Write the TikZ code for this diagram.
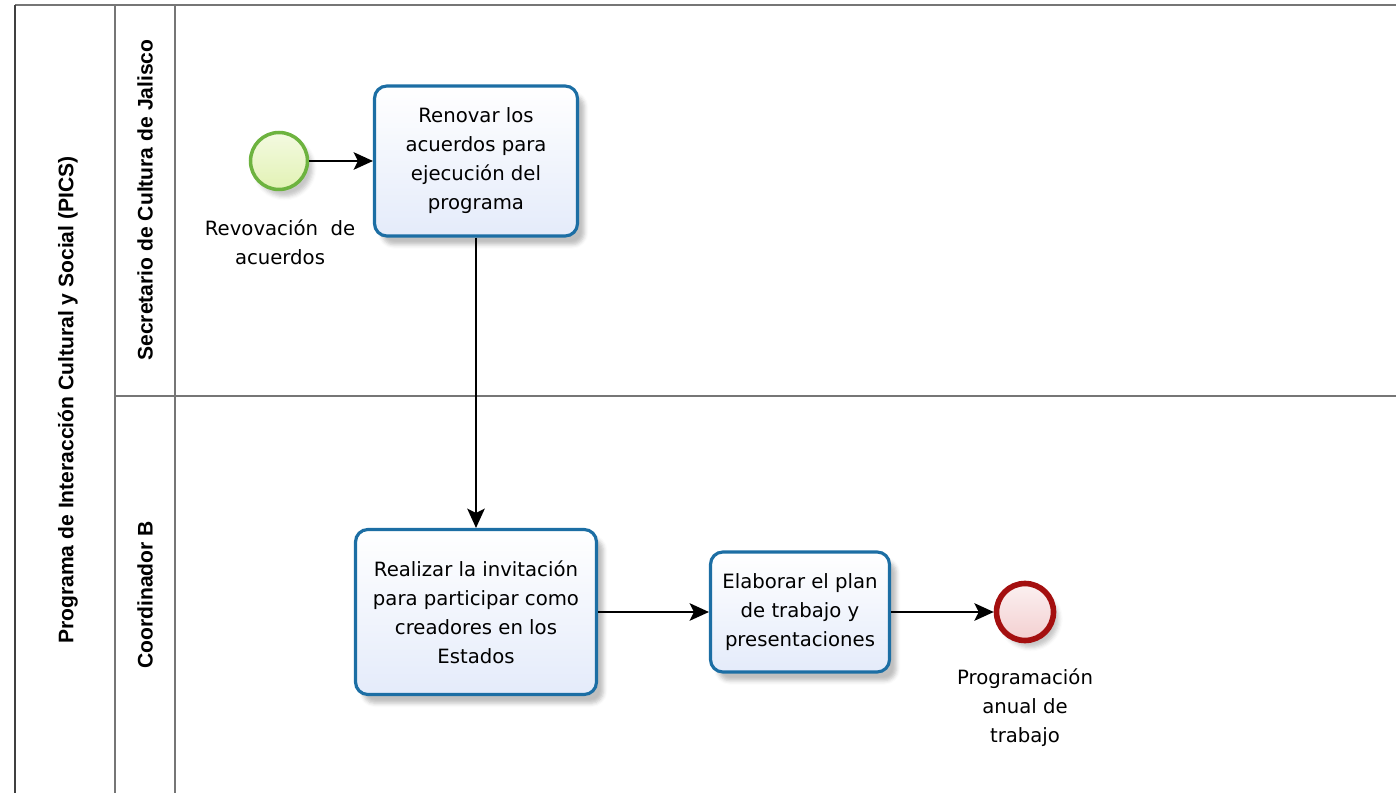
\documentclass[tikz,border=0pt]{standalone}
\usepackage{fontspec}
\setmainfont{DejaVu Sans}
\newfontfamily\lanefont{Liberation Sans}
\usetikzlibrary{arrows.meta,shadows.blur}

\definecolor{taskline}{HTML}{1C6EA4}
\definecolor{taskfill}{HTML}{E4EBFA}
\definecolor{startline}{HTML}{6DB33F}
\definecolor{startfill}{HTML}{E2F2B4}
\definecolor{endline}{HTML}{A40F0F}
\definecolor{endfill}{HTML}{F3CFD0}
\definecolor{poolline}{HTML}{767676}

\begin{document}
\begin{tikzpicture}[x=0.02cm, y=-0.02cm, >={Stealth[length=11pt,width=10pt,inset=2.5pt]},
    font=\fontsize{11.2}{16.5}\selectfont]
    \tikzstyle{task}=[rectangle,draw=taskline,line width=1.8pt,rounded corners=7pt,top color=white,bottom color=taskfill,align=center,
      blur shadow={shadow xshift=4pt,shadow yshift=-5pt,shadow opacity=25}]
    \tikzstyle{event}=[circle,minimum size=1.14cm,inner sep=0pt,blur shadow={shadow xshift=3pt,shadow yshift=-4pt,shadow opacity=22}]
    \tikzstyle{lane}=[rotate=90,font=\lanefont\bfseries\fontsize{12}{14}\selectfont]
    \tikzstyle{flow}=[->,line width=1pt]
    \useasboundingbox (0,0) rectangle (1396,793);

    % pool and lanes
    \draw[poolline,line width=1.2pt] (1396,5) -- (15,5);
    \draw[black!75,line width=1.4pt] (15,5) -- (15,793);
    \draw[poolline,line width=1.2pt] (115,5) -- (115,793);
    \draw[poolline,line width=1.2pt] (175,5) -- (175,793);
    \draw[poolline,line width=1.2pt] (115,396) -- (1396,396);
    \node[lane] (pics) at (68,400) {Programa de Interacción Cultural y Social (PICS)};
    \node[lane] (secretario) at (145,200) {Secretario de Cultura de Jalisco};
    \node[lane] (coordinador) at (145,595) {Coordinador B};

    % events
    \node[event,draw=startline,line width=2pt,top color=white!60!startfill,bottom color=startfill] (revocacion) at (279,161) {};
    \node[align=center] (revocaciontxt) at (280,242) {Revovación\ \ de\\acuerdos};
    \node[event,draw=endline,line width=3.2pt,top color=white!70!endfill,bottom color=endfill] (programacion) at (1025,612) {};
    \node[align=center] (programaciontxt) at (1025,708) {Programación\\anual de\\trabajo};

    % tasks
    \node[task,minimum width=4.06cm,minimum height=3cm] (renovar) at (476,161)
      {Renovar los\\acuerdos para\\ejecución del\\programa};
    \node[task,minimum width=4.82cm,minimum height=3.3cm] (invitacion) at (476,612)
      {Realizar la invitación\\para participar como\\creadores en los\\Estados};
    \node[task,minimum width=3.58cm,minimum height=2.4cm] (plan) at (800,612)
      {Elaborar el plan\\de trabajo y\\presentaciones};

    \path[flow](revocacion)edge(renovar);
    \path[flow](renovar)edge(invitacion);
    \path[flow](invitacion)edge(plan);
    \path[flow](plan)edge(programacion);
\end{tikzpicture}
\end{document}
